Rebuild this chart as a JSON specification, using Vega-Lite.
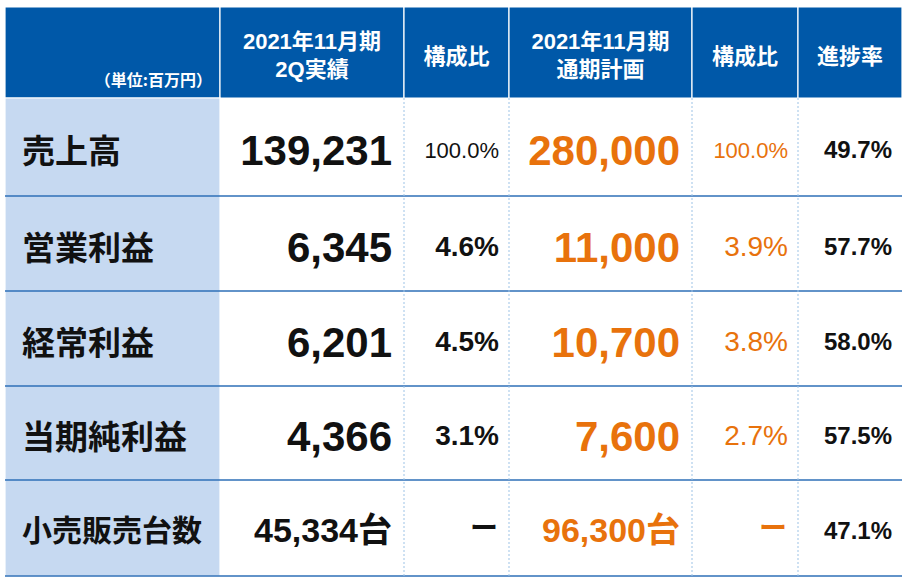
{
  "$schema": "https://vega.github.io/schema/vega-lite/v6.json",
  "autosize": {"type": "fit", "contains": "padding"},
  "width": 918,
  "height": 580,
  "padding": 0,
  "background": "#ffffff",
  "config": {"view": {"stroke": null}, "axis": null},
  "datasets": {
    "cells": [
      {"kind": "head", "col0": 0, "col1": 1, "row0": 0, "row1": 1},
      {"kind": "head", "col0": 1, "col1": 2, "row0": 0, "row1": 1},
      {"kind": "head", "col0": 2, "col1": 3, "row0": 0, "row1": 1},
      {"kind": "head", "col0": 3, "col1": 4, "row0": 0, "row1": 1},
      {"kind": "head", "col0": 4, "col1": 5, "row0": 0, "row1": 1},
      {"kind": "head", "col0": 5, "col1": 6, "row0": 0, "row1": 1},
      {"kind": "side", "col0": 0, "col1": 1, "row0": 1, "row1": 6}
    ],
    "hlines": [{"row": 2}, {"row": 3}, {"row": 4}, {"row": 5}, {"row": 6}],
    "vlines": [{"col": 2}, {"col": 3}, {"col": 4}, {"col": 5}],
    "texts": [
      {"kind": "head2", "series": "head", "row": 0.5, "col": 1.5, "text": "2021年11月期\n2Q実績"},
      {"kind": "head", "series": "head", "row": 0.5, "col": 2.5, "text": "構成比"},
      {"kind": "head2", "series": "head", "row": 0.5, "col": 3.5, "text": "2021年11月期\n通期計画"},
      {"kind": "head", "series": "head", "row": 0.5, "col": 4.5, "text": "構成比"},
      {"kind": "head", "series": "head", "row": 0.5, "col": 5.5, "text": "進捗率"},
      {"kind": "unit", "series": "head", "row": 0.8, "col": 1, "text": "（単位:百万円）"},
      {"kind": "label", "series": "actual", "row": 1.5, "col": 0, "text": "売上高"},
      {"kind": "label", "series": "actual", "row": 2.5, "col": 0, "text": "営業利益"},
      {"kind": "label", "series": "actual", "row": 3.5, "col": 0, "text": "経常利益"},
      {"kind": "label", "series": "actual", "row": 4.5, "col": 0, "text": "当期純利益"},
      {"kind": "label2", "series": "actual", "row": 5.5, "col": 0, "text": "小売販売台数"},
      {"kind": "big", "series": "actual", "row": 1.5, "col": 2, "text": "139,231"},
      {"kind": "big", "series": "actual", "row": 2.5, "col": 2, "text": "6,345"},
      {"kind": "big", "series": "actual", "row": 3.5, "col": 2, "text": "6,201"},
      {"kind": "big", "series": "actual", "row": 4.5, "col": 2, "text": "4,366"},
      {"kind": "units", "series": "actual", "row": 5.5, "col": 2, "text": "45,334台"},
      {"kind": "pct100", "series": "actual", "row": 1.5, "col": 3, "text": "100.0%"},
      {"kind": "pct", "series": "actual", "row": 2.5, "col": 3, "text": "4.6%"},
      {"kind": "pct", "series": "actual", "row": 3.5, "col": 3, "text": "4.5%"},
      {"kind": "pct", "series": "actual", "row": 4.5, "col": 3, "text": "3.1%"},
      {"kind": "dash", "series": "actual", "row": 5.5, "col": 3, "text": "ー"},
      {"kind": "big", "series": "plan", "row": 1.5, "col": 4, "text": "280,000"},
      {"kind": "big", "series": "plan", "row": 2.5, "col": 4, "text": "11,000"},
      {"kind": "big", "series": "plan", "row": 3.5, "col": 4, "text": "10,700"},
      {"kind": "big", "series": "plan", "row": 4.5, "col": 4, "text": "7,600"},
      {"kind": "units", "series": "plan", "row": 5.5, "col": 4, "text": "96,300台"},
      {"kind": "pct100", "series": "plan", "row": 1.5, "col": 5, "text": "100.0%"},
      {"kind": "pctplan", "series": "plan", "row": 2.5, "col": 5, "text": "3.9%"},
      {"kind": "pctplan", "series": "plan", "row": 3.5, "col": 5, "text": "3.8%"},
      {"kind": "pctplan", "series": "plan", "row": 4.5, "col": 5, "text": "2.7%"},
      {"kind": "dash", "series": "plan", "row": 5.5, "col": 5, "text": "ー"},
      {"kind": "rate", "series": "actual", "row": 1.5, "col": 6, "text": "49.7%"},
      {"kind": "rate", "series": "actual", "row": 2.5, "col": 6, "text": "57.7%"},
      {"kind": "rate", "series": "actual", "row": 3.5, "col": 6, "text": "58.0%"},
      {"kind": "rate", "series": "actual", "row": 4.5, "col": 6, "text": "57.5%"},
      {"kind": "rate", "series": "actual", "row": 5.5, "col": 6, "text": "47.1%"}
    ]
  },
  "resolve": {"scale": {"color": "independent"}},
  "layer": [
    {
      "data": {"name": "cells"},
      "mark": {"type": "rect", "stroke": "#ffffff", "strokeWidth": 1.2},
      "encoding": {
        "x": {"field": "col0", "type": "quantitative", "scale": {"type": "linear", "domain": [0, 1, 2, 3, 4, 5, 6], "range": [5, 220, 404, 509, 692, 798, 902], "zero": false, "nice": false}, "axis": null},
        "x2": {"field": "col1"},
        "y": {"field": "row0", "type": "quantitative", "scale": {"type": "linear", "domain": [0, 1, 2, 3, 4, 5, 6], "range": [7, 98, 196, 291, 386, 480, 576], "zero": false, "nice": false}, "axis": null},
        "y2": {"field": "row1"},
        "color": {"field": "kind", "type": "nominal", "scale": {"domain": ["head", "side"], "range": ["#0058A8", "#C6D9F1"]}, "legend": null}
      }
    },
    {
      "data": {"name": "hlines"},
      "mark": {"type": "rule", "color": "#2E6FB7", "strokeWidth": 1.5},
      "encoding": {
        "y": {"field": "row", "type": "quantitative"},
        "x": {"datum": 0, "type": "quantitative"},
        "x2": {"datum": 6}
      }
    },
    {
      "data": {"name": "vlines"},
      "mark": {"type": "rule", "color": "#9DC3E6", "strokeWidth": 1, "strokeDash": [2, 2]},
      "encoding": {
        "x": {"field": "col", "type": "quantitative"},
        "y": {"datum": 1, "type": "quantitative"},
        "y2": {"datum": 6}
      }
    },
    {
      "data": {"name": "texts"},
      "transform": [{"filter": "datum.kind === 'head'"}],
      "mark": {"type": "text", "align": "center", "baseline": "middle", "fontSize": 22, "fontWeight": "bold", "dy": 4, "color": "#ffffff", "font": "'Liberation Sans', 'Noto Sans CJK JP', sans-serif"},
      "encoding": {
        "x": {"field": "col", "type": "quantitative"},
        "y": {"field": "row", "type": "quantitative"},
        "text": {"field": "text"}
      }
    },
    {
      "data": {"name": "texts"},
      "transform": [{"filter": "datum.kind === 'head2'"}],
      "mark": {"type": "text", "align": "center", "baseline": "middle", "fontSize": 22, "fontWeight": "bold", "lineBreak": "\n", "lineHeight": 28, "dy": -11, "color": "#ffffff", "font": "'Liberation Sans', 'Noto Sans CJK JP', sans-serif"},
      "encoding": {
        "x": {"field": "col", "type": "quantitative"},
        "y": {"field": "row", "type": "quantitative"},
        "text": {"field": "text"}
      }
    },
    {
      "data": {"name": "texts"},
      "transform": [{"filter": "datum.kind === 'unit'"}],
      "mark": {"type": "text", "align": "right", "baseline": "middle", "fontSize": 16, "fontWeight": "bold", "dx": -8, "dy": 1, "color": "#ffffff", "font": "'Noto Sans CJK JP', sans-serif"},
      "encoding": {
        "x": {"field": "col", "type": "quantitative"},
        "y": {"field": "row", "type": "quantitative"},
        "text": {"field": "text"}
      }
    },
    {
      "data": {"name": "texts"},
      "transform": [{"filter": "datum.kind === 'label'"}],
      "mark": {"type": "text", "align": "left", "baseline": "middle", "fontSize": 33, "fontWeight": "bold", "dx": 17, "dy": 6, "color": "#111111", "font": "'Noto Sans CJK JP', sans-serif"},
      "encoding": {
        "x": {"field": "col", "type": "quantitative"},
        "y": {"field": "row", "type": "quantitative"},
        "text": {"field": "text"}
      }
    },
    {
      "data": {"name": "texts"},
      "transform": [{"filter": "datum.kind === 'label2'"}],
      "mark": {"type": "text", "align": "left", "baseline": "middle", "fontSize": 30, "fontWeight": "bold", "dx": 17, "dy": 4, "color": "#111111", "font": "'Noto Sans CJK JP', sans-serif"},
      "encoding": {
        "x": {"field": "col", "type": "quantitative"},
        "y": {"field": "row", "type": "quantitative"},
        "text": {"field": "text"}
      }
    },
    {
      "data": {"name": "texts"},
      "transform": [{"filter": "datum.kind === 'big'"}],
      "mark": {"type": "text", "align": "right", "baseline": "middle", "fontSize": 42, "fontWeight": "bold", "dx": -12, "dy": 5, "font": "'Liberation Sans', 'Noto Sans CJK JP', sans-serif"},
      "encoding": {
        "x": {"field": "col", "type": "quantitative"},
        "y": {"field": "row", "type": "quantitative"},
        "text": {"field": "text"},
        "color": {"field": "series", "type": "nominal", "scale": {"domain": ["actual", "plan"], "range": ["#111111", "#E8720C"]}, "legend": null}
      }
    },
    {
      "data": {"name": "texts"},
      "transform": [{"filter": "datum.kind === 'units'"}],
      "mark": {"type": "text", "align": "right", "baseline": "middle", "fontSize": 34, "fontWeight": "bold", "dx": -12, "dy": 4, "font": "'Liberation Sans', 'Noto Sans CJK JP', sans-serif"},
      "encoding": {
        "x": {"field": "col", "type": "quantitative"},
        "y": {"field": "row", "type": "quantitative"},
        "text": {"field": "text"},
        "color": {"field": "series", "type": "nominal", "scale": {"domain": ["actual", "plan"], "range": ["#111111", "#E8720C"]}, "legend": null}
      }
    },
    {
      "data": {"name": "texts"},
      "transform": [{"filter": "datum.kind === 'pct100'"}],
      "mark": {"type": "text", "align": "right", "baseline": "middle", "fontSize": 22, "fontWeight": "normal", "dx": -10, "dy": 4, "font": "'Liberation Sans', sans-serif"},
      "encoding": {
        "x": {"field": "col", "type": "quantitative"},
        "y": {"field": "row", "type": "quantitative"},
        "text": {"field": "text"},
        "color": {"field": "series", "type": "nominal", "scale": {"domain": ["actual", "plan"], "range": ["#111111", "#E8720C"]}, "legend": null}
      }
    },
    {
      "data": {"name": "texts"},
      "transform": [{"filter": "datum.kind === 'pct'"}],
      "mark": {"type": "text", "align": "right", "baseline": "middle", "fontSize": 28, "fontWeight": "bold", "dx": -10, "dy": 4, "color": "#111111", "font": "'Liberation Sans', sans-serif"},
      "encoding": {
        "x": {"field": "col", "type": "quantitative"},
        "y": {"field": "row", "type": "quantitative"},
        "text": {"field": "text"}
      }
    },
    {
      "data": {"name": "texts"},
      "transform": [{"filter": "datum.kind === 'pctplan'"}],
      "mark": {"type": "text", "align": "right", "baseline": "middle", "fontSize": 28, "fontWeight": "normal", "dx": -10, "dy": 4, "color": "#E8720C", "font": "'Liberation Sans', sans-serif"},
      "encoding": {
        "x": {"field": "col", "type": "quantitative"},
        "y": {"field": "row", "type": "quantitative"},
        "text": {"field": "text"}
      }
    },
    {
      "data": {"name": "texts"},
      "transform": [{"filter": "datum.kind === 'rate'"}],
      "mark": {"type": "text", "align": "right", "baseline": "middle", "fontSize": 24, "fontWeight": "bold", "dx": -10, "dy": 4, "color": "#111111", "font": "'Liberation Sans', sans-serif"},
      "encoding": {
        "x": {"field": "col", "type": "quantitative"},
        "y": {"field": "row", "type": "quantitative"},
        "text": {"field": "text"}
      }
    },
    {
      "data": {"name": "texts"},
      "transform": [{"filter": "datum.kind === 'dash'"}],
      "mark": {"type": "text", "align": "right", "baseline": "middle", "fontSize": 28, "fontWeight": "bold", "dx": -11, "dy": 2, "font": "'Noto Sans CJK JP', sans-serif"},
      "encoding": {
        "x": {"field": "col", "type": "quantitative"},
        "y": {"field": "row", "type": "quantitative"},
        "text": {"field": "text"},
        "color": {"field": "series", "type": "nominal", "scale": {"domain": ["actual", "plan"], "range": ["#111111", "#E8720C"]}, "legend": null}
      }
    }
  ]
}
